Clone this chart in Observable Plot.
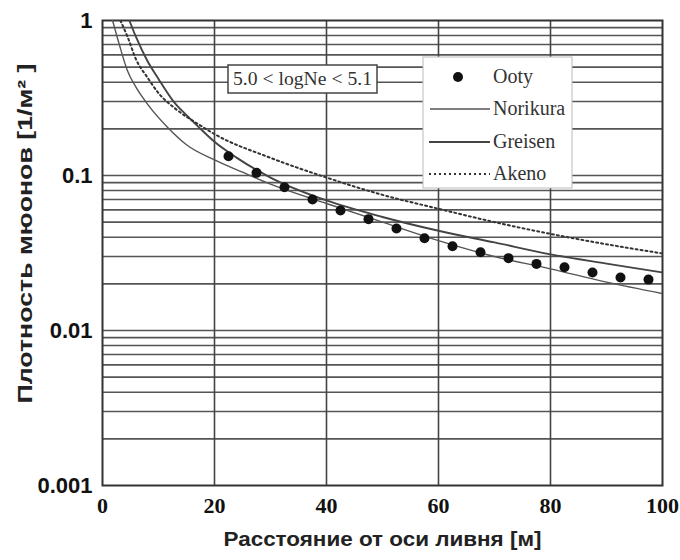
<!DOCTYPE html>
<html><head><meta charset="utf-8">
<script src="https://cdn.jsdelivr.net/npm/d3@7"></script>
<script src="https://cdn.jsdelivr.net/npm/@observablehq/plot@0.6"></script>
<style>
body{margin:0;background:#fff}
#chart{width:680px;height:560px}
</style>
</head><body><div id="chart"></div>
<script>
// Ooty measurements
const ootyX = [22.5, 27.5, 32.5, 37.5, 42.5, 47.5, 52.5, 57.5, 62.5, 67.5, 72.5, 77.5, 82.5, 87.5, 92.5, 97.5];
const ootyY = [0.133, 0.104, 0.084, 0.070, 0.0595, 0.0523, 0.0455, 0.0394, 0.035, 0.032, 0.0293, 0.0269, 0.0256, 0.0237, 0.022, 0.0213];
// Norikura (thin solid)
const norikuraX = [1.8, 3, 4.4, 6, 8, 11.6, 15, 20, 25, 30, 40, 50, 60, 70, 80, 90, 100];
const norikuraY = [1.0, 0.7, 0.48, 0.37, 0.29, 0.205, 0.158, 0.126, 0.105, 0.088, 0.066, 0.05, 0.038, 0.03, 0.025, 0.0205, 0.0173];
// Greisen (thicker solid)
const greisenX = [4.8, 6, 8, 10, 12.7, 15, 17.5, 20, 24, 30, 40, 50, 60, 70, 80, 90, 100];
const greisenY = [1.0, 0.78, 0.55, 0.42, 0.30, 0.245, 0.2, 0.165, 0.13, 0.097, 0.069, 0.054, 0.044, 0.037, 0.031, 0.027, 0.0237];
// Akeno (dotted)
const akenoX = [3.2, 4.5, 6, 8, 10, 13, 17.5, 20, 30, 40, 50, 60, 70, 80, 90, 100];
const akenoY = [1.0, 0.78, 0.56, 0.43, 0.34, 0.27, 0.21, 0.185, 0.13, 0.097, 0.075, 0.061, 0.05, 0.042, 0.036, 0.0314];

const xTicks = [0, 20, 40, 60, 80, 100];
const yTicks = [0.001, 0.01, 0.1, 1];
const xGrid = [20, 40, 60, 80];
const yGrid = [0.002,0.003,0.004,0.005,0.006,0.007,0.008,0.009,0.01,
               0.02,0.03,0.04,0.05,0.06,0.07,0.08,0.09,0.1,
               0.2,0.3,0.4,0.5,0.6,0.7,0.8,0.9];
const xTitle = "Расстояние от оси ливня [м]";
const yTitle = "Плотность мюонов [1/м² ]";
const rangeLabel = "5.0 < logNe < 5.1";
const seriesNames = ["Ooty", "Norikura", "Greisen", "Akeno"];

const zip = (xs, ys) => xs.map((x, i) => ({x, y: ys[i]}));
const ooty = zip(ootyX, ootyY);
const norikura = zip(norikuraX, norikuraY);
const greisen = zip(greisenX, greisenY);
const akeno = zip(akenoX, akenoY);

const sans = "Liberation Sans, Arial, sans-serif";
const serif = "Liberation Serif, Times New Roman, serif";

const plot = Plot.plot({
  width: 680, height: 560,
  marginLeft: 102, marginRight: 18, marginTop: 20, marginBottom: 75,
  x: {domain: [0, 100]},
  y: {type: "log", domain: [0.001, 1]},
  style: {background: "#fff", color: "#111"},
  marks: [
    Plot.ruleY(yGrid, {stroke: "#555", strokeWidth: 1.6}),
    Plot.ruleX(xGrid, {stroke: "#444", strokeWidth: 1.6}),
    Plot.frame({stroke: "#333", strokeWidth: 2}),
    Plot.line(norikura, {x: "x", y: "y", curve: "monotone-x", stroke: "#555", strokeWidth: 1.4, clip: true}),
    Plot.line(greisen, {x: "x", y: "y", curve: "monotone-x", stroke: "#444", strokeWidth: 1.9, clip: true}),
    Plot.line(akeno, {x: "x", y: "y", curve: "monotone-x", stroke: "#333", strokeWidth: 2, strokeDasharray: "2,3", clip: true}),
    Plot.dot(ooty, {x: "x", y: "y", r: 5, fill: "#111", stroke: "none"}),
    Plot.axisY({ticks: yTicks, tickSize: 0, tickPadding: 10, tickFormat: d => String(d), fontSize: 22, fontWeight: "bold", fontFamily: sans, label: null}),
    Plot.axisX({ticks: xTicks, tickSize: 0, tickPadding: 12, tickFormat: d => String(d), fontSize: 22, fontWeight: "bold", fontFamily: serif, label: null}),
    Plot.text([yTitle], {text: d => d, frameAnchor: "bottom-left", textAnchor: "start", dx: -71, dy: -82, rotate: -90, fontSize: 21, fontWeight: "bold", fontFamily: sans, fill: "#222"}),
    Plot.text([xTitle], {text: d => d, frameAnchor: "bottom-left", textAnchor: "start", dx: 121, dy: 60, fontSize: 20, fontWeight: "bold", fontFamily: sans, fill: "#222"})
  ]
});
document.getElementById("chart").append(plot);

const svg = d3.select(plot);
// stretch the axis titles to the reference's lengths
svg.selectAll("text").each(function() {
  const t = this.textContent;
  if (t === yTitle) d3.select(this).attr("textLength", 340).attr("lengthAdjust", "spacingAndGlyphs");
  if (t === xTitle) d3.select(this).attr("textLength", 318).attr("lengthAdjust", "spacingAndGlyphs");
});

// Annotation box and legend (layout only)
const ann = svg.append("g");
ann.append("rect").attr("x", 228).attr("y", 65).attr("width", 149).attr("height", 28)
  .attr("fill", "#fff").attr("stroke", "#444").attr("stroke-width", 1.5);
ann.append("text").attr("x", 233).attr("y", 85).attr("text-anchor", "start")
  .attr("textLength", 139).attr("lengthAdjust", "spacingAndGlyphs")
  .attr("font-family", serif).attr("font-size", 18).attr("fill", "#333")
  .text(rangeLabel);

const leg = svg.append("g");
leg.append("rect").attr("x", 423).attr("y", 57).attr("width", 149).attr("height", 131)
  .attr("fill", "#fff").attr("stroke", "#bbb").attr("stroke-width", 1);
const rowsY = [77, 109, 142, 174];
leg.append("circle").attr("cx", 458).attr("cy", rowsY[0]).attr("r", 5).attr("fill", "#111");
leg.append("line").attr("x1", 430).attr("x2", 490).attr("y1", rowsY[1]).attr("y2", rowsY[1]).attr("stroke", "#555").attr("stroke-width", 1.4);
leg.append("line").attr("x1", 429).attr("x2", 490).attr("y1", rowsY[2]).attr("y2", rowsY[2]).attr("stroke", "#444").attr("stroke-width", 1.9);
leg.append("line").attr("x1", 429).attr("x2", 490).attr("y1", rowsY[3]).attr("y2", rowsY[3]).attr("stroke", "#333").attr("stroke-width", 2).attr("stroke-dasharray", "2,3");
seriesNames.forEach((n, i) => {
  leg.append("text").attr("x", 493).attr("y", rowsY[i] + 6).attr("text-anchor", "start")
    .attr("font-family", serif).attr("font-size", 20).attr("fill", "#333").text(n);
});
</script>
</body></html>
